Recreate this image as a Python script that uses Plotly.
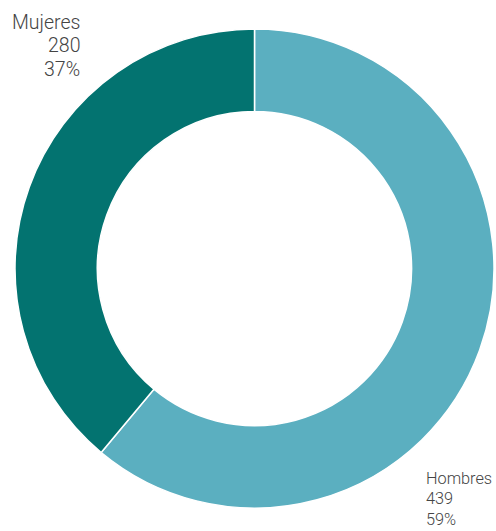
import plotly.graph_objects as go

categories = ["Hombres", "Mujeres"]
values = [439, 280]
pct_labels = ["59%", "37%"]

colors = ["#5BAFC0", "#037370"]

W, H = 496, 531
cx, cy, r = 254.5, 268.5, 239.5

fig = go.Figure(go.Pie(
    labels=categories,
    values=values,
    hole=0.656,
    sort=False,
    direction="clockwise",
    rotation=0,
    marker=dict(colors=colors, line=dict(color="white", width=1.5)),
    textinfo="none",
    hoverinfo="label+value",
    showlegend=False,
    domain=dict(x=[(cx - r) / W, (cx + r) / W], y=[1 - (cy + r) / H, 1 - (cy - r) / H]),
))

font_family = "Roboto"
txt_color = "#444444"

# label placement: (x pixel, anchor, first-line centre y pixel, line spacing, size)
placements = {
    "Mujeres": (80, "right", 22.5, 23.3, 19.5),
    "Hombres": (426, "left", 478, 20.8, 16.3),
}

annotations = []
for cat, val, pct in zip(categories, values, pct_labels):
    px, anchor, y0, dy, size = placements[cat]
    for i, line in enumerate([cat, str(val), pct]):
        yc = y0 + i * dy
        annotations.append(dict(
            x=px / W, y=1 - yc / H, xref="paper", yref="paper",
            xanchor=anchor, yanchor="middle", align=anchor,
            text=line, showarrow=False, borderpad=0, borderwidth=0,
            font=dict(family=font_family, size=size, color=txt_color, weight=300),
        ))

fig.update_layout(
    width=W, height=H,
    margin=dict(l=0, r=0, t=0, b=0),
    paper_bgcolor="white", plot_bgcolor="white",
    annotations=annotations,
)

fig.write_html(
    "out.html",
    config={"displayModeBar": False},
    post_script="document.body.style.margin='0';document.body.style.overflow='hidden';",
)
